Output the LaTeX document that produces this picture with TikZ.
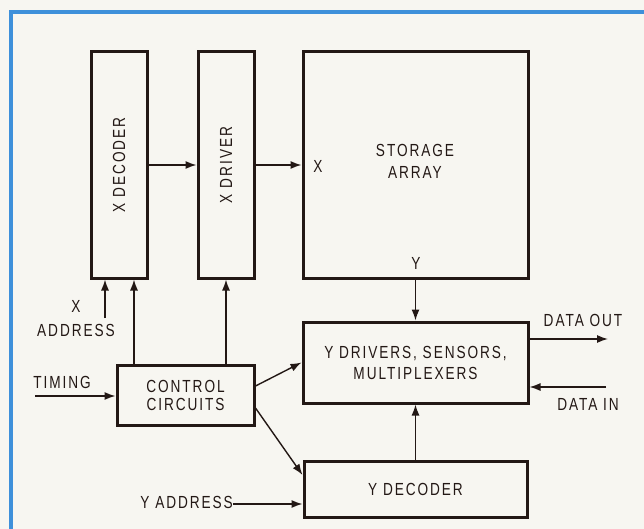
\documentclass[tikz,border=0pt]{standalone}
\usepackage{fontspec}
\setmainfont{Liberation Sans}[FakeStretch=0.78,LetterSpace=11]
\usetikzlibrary{arrows.meta,calc}
\definecolor{bg}{HTML}{F7F6F1}
\definecolor{frameblue}{HTML}{3E90DA}
\definecolor{ink}{HTML}{231815}
\tikzset{
  blk/.style={draw=ink,line width=3pt,fill=bg,inner sep=0pt,align=center,text=ink},
  arr/.style={draw=ink,line width=1.4pt,-{Latex[length=11pt,width=8pt]}},
  lbl/.style={text=ink,inner sep=0pt,align=center},
}
\begin{document}
\begin{tikzpicture}[x=1pt,y=-1pt,font=\fontsize{17.5}{20}\selectfont]
\fill[bg] (0,0) rectangle (644,529);
\useasboundingbox (0,0) rectangle (644,529);
\draw[frameblue,line width=3.5pt] (11,540) -- (11,12) -- (660,12);
% blocks
\node[blk,minimum width=56pt,minimum height=226pt] (xdec) at (119,165) {};
\node[lbl,rotate=90] at (xdec.center) {X DECODER};
\node[blk,minimum width=56pt,minimum height=226pt] (xdrv) at (226,165) {};
\node[lbl,rotate=90] at (xdrv.center) {X DRIVER};
\node[blk,minimum width=225pt,minimum height=226pt] (stor) at (415.5,165) {};
\node[lbl] (storlbl) at (415,161) {STORAGE\\[2pt]ARRAY};
\node[lbl] (xlbl) at (318,166) {X};
\node[lbl] (ylbl) at (416,263) {Y};
\node[blk,minimum width=137pt,minimum height=60pt] (ctrl) at (185.5,395) {CONTROL\\[-2pt]CIRCUITS};
\node[blk,minimum width=225pt,minimum height=81pt] (ydrv) at (415.5,362.5) {Y DRIVERS, SENSORS,\\[1pt]MULTIPLEXERS};
\node[blk,minimum width=223pt,minimum height=56pt] (ydec) at (415.5,489) {Y DECODER};
% labels
\node[lbl] (xaddr) at (76,319) {X\\[4pt]ADDRESS};
\node[lbl] (timing) at (62,382) {TIMING};
\node[lbl,anchor=east] (yaddr) at (233,502) {Y ADDRESS};
\node[lbl] (dout) at (583,320) {DATA OUT};
\node[lbl] (din) at (588,404) {DATA IN};
% coordinates
\coordinate (xa) at (105,318);
\coordinate (c1) at (134,0);
\coordinate (tm) at (35,396);
\coordinate (ya) at (233,504);
\coordinate (do) at (608,339);
\coordinate (di) at (606,387);
% connectors
\draw[arr] (xdec.east) -- (xdrv.west);
\draw[arr] (xdrv.east) -- (stor.west);
\draw[arr] (xa) -- (xa |- xdec.south);
\draw[arr] (ctrl.north -| c1) -- (xdec.south -| c1);
\draw[arr] (ctrl.north -| xdrv.south) -- (xdrv.south);
\draw[arr] (tm) -- (ctrl.west |- tm);
\draw[arr] ($(ctrl.east)+(0,-9)$) -- (ydrv.west);
\draw[arr] ($(ctrl.east)+(0,13)$) -- ($(ydec.west)+(0,-14)$);
\draw[arr] (ya) -- (ydec.west |- ya);
\draw[arr] (stor.south) -- (ydrv.north);
\draw[arr] (ydec.north) -- (ydrv.south);
\draw[arr] (ydrv.east |- do) -- (do);
\draw[arr] (di) -- (ydrv.east |- di);
\end{tikzpicture}
\end{document}
